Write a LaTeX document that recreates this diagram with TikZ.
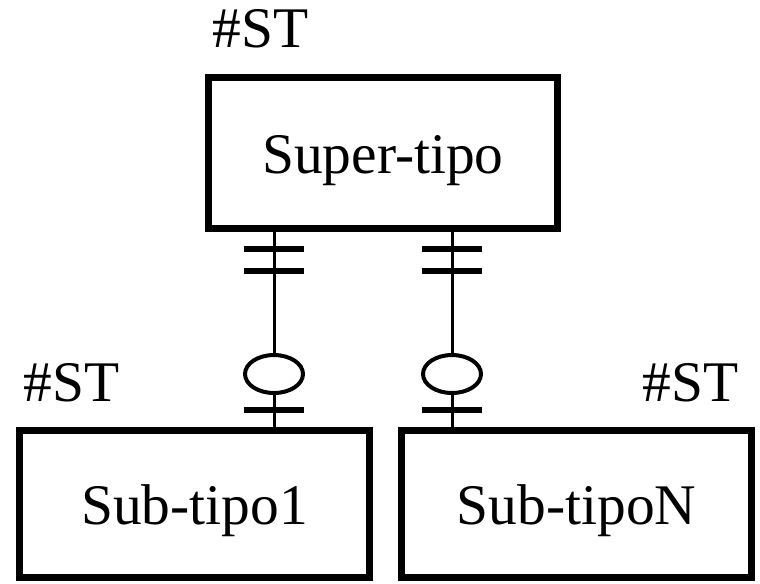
\documentclass[tikz,border=0pt]{standalone}
\usepackage{fontspec}
\setmainfont{Liberation Serif}
\usetikzlibrary{shapes.geometric}

\begin{document}
\begin{tikzpicture}[
		x=0.02cm,
		y=-0.02cm,
		entity/.style={draw, line width=0.14cm, minimum width=7cm, minimum height=2.94cm,
			inner sep=0pt, text height=0.8cm, text depth=0cm,
			font=\fontsize{32.7pt}{39pt}\selectfont},
		tag/.style={inner sep=0pt, font=\fontsize{32.7pt}{39pt}\selectfont},
		link/.style={line width=0.06cm},
		bar/.style={line width=0.12cm},
		opt/.style={draw, ellipse, fill=white, line width=0.08cm, inner sep=0pt,
			minimum width=1.16cm, minimum height=0.76cm}
	]
	\useasboundingbox (0,0) rectangle (760,583);

	% Entities
	\node[entity, minimum height=3.02cm] (super) at (383,153) {Super-tipo};
	\node[entity] (sub1) at (194.5,504) {Sub-tipo1};
	\node[entity] (subN) at (576.5,504) {Sub-tipoN};

	% Cardinality tags
	\node[tag, anchor=base west] (tagsuper) at (212,47) {\#ST};
	\node[tag, anchor=base west] (tag1) at (23,401) {\#ST};
	\node[tag, anchor=base east] (tagN) at (739,401) {\#ST};

	% Optional ends (zero)
	\node[opt] (o1) at (274,374) {};
	\node[opt] (oN) at (452,374) {};

	% Relationships: one-and-only-one on the super-type side
	\foreach \o/\s in {o1/sub1, oN/subN} {
		\draw[link] (super.south -| \o) -- (\o) -- (\s.north -| \o);
		\draw[bar] (super.south -| \o) ++(-30,17) -- ++(60,0);
		\draw[bar] (super.south -| \o) ++(-30,39) -- ++(60,0);
		\draw[bar] (\s.north -| \o) ++(-30,-17) -- ++(60,0);
	}

\end{tikzpicture}
\end{document}
